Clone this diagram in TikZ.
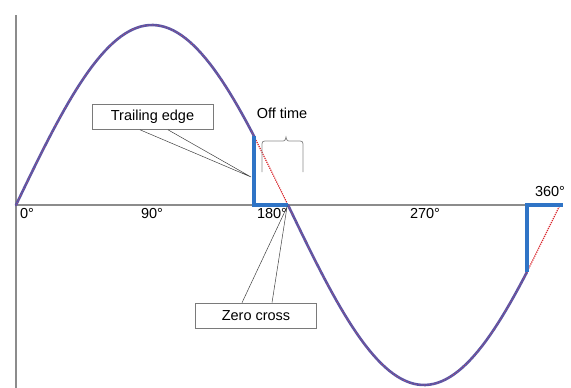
\documentclass[tikz,border=0pt]{standalone}
\usepackage{fontspec}
\setmainfont{Liberation Sans}
\usepackage{tikz}
\definecolor{axisgray}{HTML}{8C8C8C}
\definecolor{wave}{HTML}{5A55A6}
\definecolor{edgeblue}{HTML}{2F74C6}
\definecolor{cutred}{HTML}{D8232A}
\definecolor{boxline}{HTML}{7A7A7A}

\begin{document}
\begin{tikzpicture}[
  x=1pt, y=-1pt,
  font=\fontsize{14.5}{16}\selectfont,
  axis/.style={draw=axisgray, line width=1.8pt},
  curve/.style={draw=wave, line width=2.6pt, line cap=round},
  curvedots/.style={draw=cutred!80, line width=0.6pt, dotted},
  cut/.style={draw=edgeblue, line width=3.6pt},
  offpart/.style={draw=cutred, line width=1.2pt, densely dotted},
  callout/.style={draw=boxline, fill=white, line width=0.6pt, minimum width=121pt,
                  minimum height=25pt, inner sep=2pt},
  leader/.style={draw=black!75, line width=0.5pt},
  deg/.style={inner sep=1pt}
]
\useasboundingbox (0,0) rectangle (571,388);

% axes
\coordinate (O) at (16,205);
\coordinate (ytop) at (16,15);
\coordinate (ybot) at (16,388);
\coordinate (xend) at (527,205);
\draw[axis] (ytop) -- (ybot);
\draw[axis] (O) -- (xend);

% sine, chopped at the trailing edges
\draw[curve] plot[domain=0:157.5, samples=60] ({16+\x*1.51111},{205-180*sin(\x)});
\draw[curve] plot[domain=180:338, samples=60] ({16+\x*1.51111},{205-180*sin(\x)});
\draw[curvedots] plot[domain=0:157.5, samples=60] ({16+\x*1.51111},{205-180*sin(\x)});
\draw[curvedots] plot[domain=180:338, samples=60] ({16+\x*1.51111},{205-180*sin(\x)});

\coordinate (te1) at ({16+157.5*1.51111},{205-180*sin(157.5)});
\coordinate (zc1) at (288,205);
\coordinate (te2) at ({16+338*1.51111},{205-180*sin(338)});
\coordinate (zc2) at (560,205);

% removed part of the wave
\draw[offpart] (te1) -- (zc1);
\draw[offpart] (te2) -- (zc2);

% blue edges
\draw[cut] (te1) -- (te1 |- O) -- (zc1);
\draw[cut] (te2) -- (te2 |- O) -- ([xshift=3pt]zc2);

% degree labels
\node[deg] (d0)   at (27,214)  {0°};
\node[deg] (d90)  at (152,214) {90°};
\node[deg] (d180) at (272,214) {180°};
\node[deg] (d270) at (425,214) {270°};
\node[deg] (d360) at (550,192) {360°};

% off time brace
\node[deg] (off) at (282,113) {Off time};
\coordinate (brl) at (262,172);
\coordinate (brr) at (303,172);
\draw[draw=axisgray, line width=0.8pt]
  (brl) -- (262,147) .. controls (262,141) .. (268,141) -- (281,141)
  .. controls (285,141) .. (286,137) .. controls (287,141) .. (291,141)
  -- (297,141) .. controls (303,141) .. (303,147) -- (brr);

% callouts
\node[callout] (trail) at (152.5,117) {Trailing edge};
\node[callout] (zero) at (256,315.5) {Zero cross};
\coordinate (tetip) at (251,177);
\coordinate (zctip) at (287,207);
\draw[leader] ([xshift=-12.5pt]trail.south) -- (tetip) -- ([xshift=15.5pt]trail.south);
\draw[leader] ([xshift=-14pt]zero.north) -- (zctip) -- ([xshift=16pt]zero.north);
\end{tikzpicture}
\end{document}
